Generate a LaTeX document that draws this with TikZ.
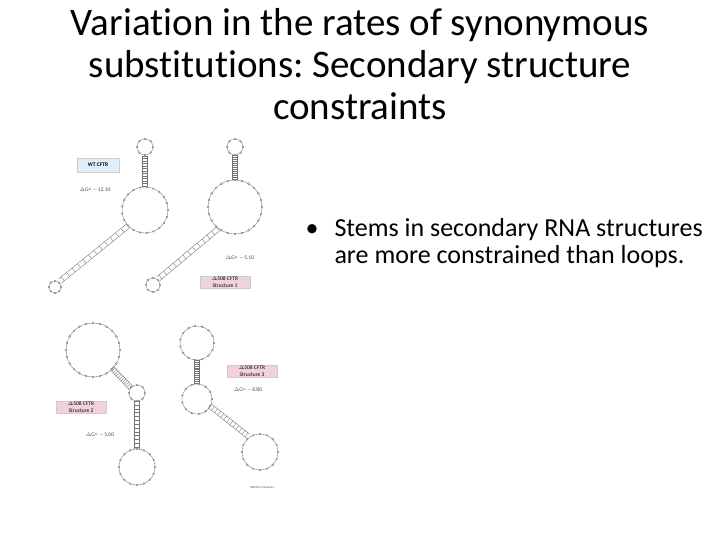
\documentclass[tikz,border=0pt]{standalone}
\usepackage{fontspec}
\setmainfont[Ligatures=NoCommon]{Carlito}
\usetikzlibrary{calc}
\frenchspacing
\definecolor{wtblue}{RGB}{222,238,250}
\definecolor{mutpink}{RGB}{240,210,222}
\tikzset{
  rna/.style={draw=black!55,line width=0.35pt},
  lbl/.style={font=\fontsize{5.5}{6}\selectfont,text=black!70},
  tag/.style={draw=black!20,line width=0.3pt,font=\fontsize{5.5}{6.5}\selectfont,align=center,inner sep=1pt,minimum width=50pt},
}
\newcommand\rnastem[2]{%
  \draw[rna] ($(#1)!2.5pt!90:(#2)$) -- ($(#2)!2.5pt!-90:(#1)$);
  \draw[rna] ($(#1)!2.5pt!-90:(#2)$) -- ($(#2)!2.5pt!90:(#1)$);
  \foreach \t in {0,0.08,...,1.01}{\draw[rna] ($($(#1)!\t!(#2)$)!2.5pt!90:(#2)$) -- ($($(#1)!\t!(#2)$)!2.5pt!-90:(#2)$);}
}
\newcommand\rnaloop[2]{%
  \draw[rna] (#1) circle (#2);
  \pgfmathsetmacro\st{360/max(8,round(#2*0.9))}
  \foreach \a in {0,\st,...,359}{\fill[white] ($(#1)+(\a:#2)$) circle (0.9); \draw[rna] ($(#1)+(\a:#2)$) circle (0.9);}
}
\begin{document}
\begin{tikzpicture}[x=1pt,y=-1pt]
\useasboundingbox[fill=white] (0,0) rectangle (720,540);
\node[align=center,font=\fontsize{39}{42}\selectfont] (title) at (360,64) {Variation in the rates of synonymous\\substitutions: Secondary structure\\constraints};
\node[anchor=north west,align=left,font=\fontsize{26}{27}\selectfont] (bullet) at (302,215) {\makebox[29pt][l]{•}Stems in secondary RNA structures\\\hspace*{29pt}are more constrained than loops.};
% WT
\coordinate (w1) at (145,147); \coordinate (w2) at (145,210); \coordinate (w3) at (55,287);
\rnastem{145,156}{145,187}
\rnastem{128,226}{60,281}
\rnaloop{w1}{8}\rnaloop{w2}{23}\rnaloop{w3}{6}
\node[tag,fill=wtblue,font=\fontsize{5.5}{6.5}\selectfont\bfseries,minimum width=42pt,minimum height=14pt] (wt) at (98,165) {WT CFTR};
\node[lbl] (g0) at (95,190) {$\Delta$G= $-$12.10};
% S1
\coordinate (a1) at (235,147); \coordinate (a2) at (235,207); \coordinate (a3) at (153,285);
\rnastem{235,155}{235,180}
\rnastem{218,229}{158,279}
\rnaloop{a1}{8}\rnaloop{a2}{27}\rnaloop{a3}{7}
\node[lbl] (g1) at (240,258) {$\Delta$G= $-$5.10};
\node[tag,fill=mutpink] (t1) at (225,282) {$\Delta$508 CFTR\\Structure 1};
% S2
\coordinate (b1) at (93,350); \coordinate (b2) at (137,393); \coordinate (b3) at (137,467);
\rnastem{112,368}{131,388}
\rnastem{137,401}{137,449}
\rnaloop{b1}{27}\rnaloop{b2}{8}\rnaloop{b3}{18}
\node[tag,fill=mutpink] (t2) at (81,407) {$\Delta$508 CFTR\\Structure 2};
\node[lbl] (g2) at (100,435) {$\Delta$G= $-$5.00};
% S3
\coordinate (c1) at (197,343); \coordinate (c2) at (197,399); \coordinate (c3) at (260,452);
\rnastem{197,360}{197,384}
\rnastem{210,406}{248,436}
\rnaloop{c1}{17}\rnaloop{c2}{15}\rnaloop{c3}{18}
\node[tag,fill=mutpink] (t3) at (252,371) {$\Delta$508 CFTR\\Structure 3};
\node[lbl] (g3) at (248,390) {$\Delta$G= $-$8.80};
\node[lbl,font=\fontsize{3}{3}\selectfont] (tr) at (262,487) {TRENDS in Genetics};
\end{tikzpicture}
\end{document}
